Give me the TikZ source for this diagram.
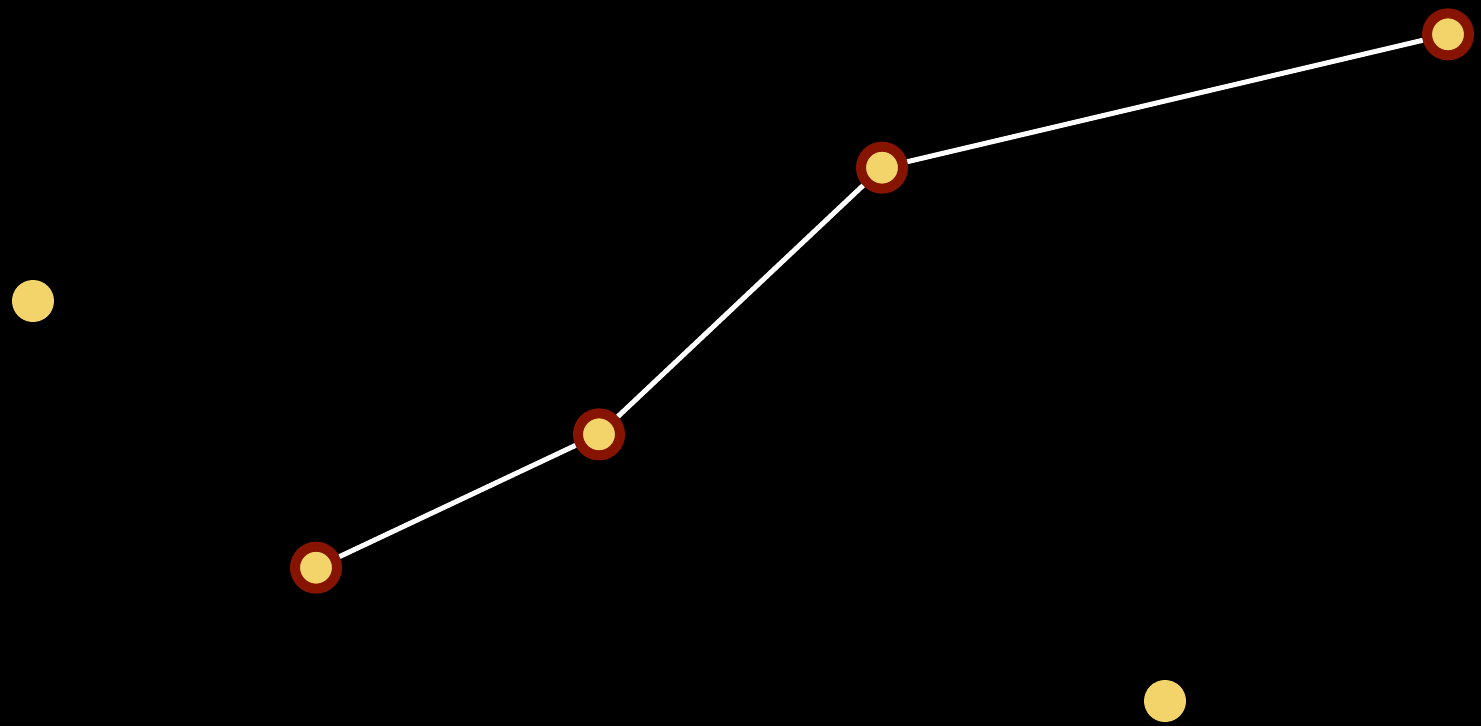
\documentclass[tikz,border=0pt]{standalone}
\usepackage{tikz}
\usetikzlibrary{arrows.meta, positioning}
\definecolor{amarillo}{HTML}{F2D46A}
\definecolor{granate}{HTML}{861400}

\begin{document}
\begin{tikzpicture}[
  x=5.66cm, y=2.6667cm,
  dot/.style={
    circle, fill=amarillo, inner sep=0pt,
    minimum size=0.84cm
  },
  ringdot/.style={
    dot, draw=granate, line width=0.2cm
  },
  link/.style={white, line width=0.1cm}
]
  \fill[black] (-0.1166,-0.1875) rectangle (5.1166,5.2575);
  \useasboundingbox (-0.1166,-0.1875) rectangle (5.1166,5.2575);
  \node[dot] (p0) at (0,3) {};
  \node[dot] (p4) at (4,0) {};
  \node[ringdot] (p1) at (1,1) {};
  \node[ringdot] (p2) at (2,2) {};
  \node[ringdot] (p3) at (3,4) {};
  \node[ringdot] (p5) at (5,5) {};
  \foreach \a/\b in {p1/p2,p2/p3,p3/p5}
    \draw[link] (\a)--(\b);
\end{tikzpicture}
\end{document}
